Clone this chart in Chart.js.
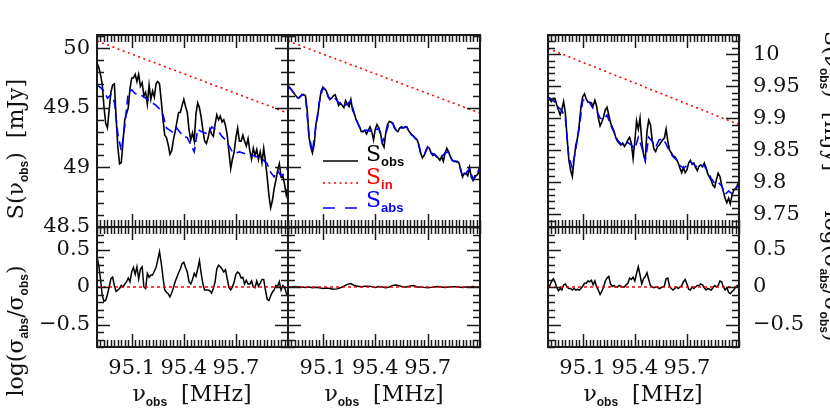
<!DOCTYPE html>
<html>
<head>
  <meta charset="utf-8">
  <title>S(nu_obs) spectra and log(sigma_abs/sigma_obs)</title>
  <script src="https://cdn.jsdelivr.net/npm/chart.js@4.4.0/dist/chart.umd.min.js"></script>
  <style>
    body { margin: 0; background: #fff; }
    #wrap { position: relative; width: 830px; height: 418px; overflow: hidden; }
    canvas { position: absolute; }
    .ttl { position: absolute; font-family: 'DejaVu Serif'; font-size: 22px; line-height: 24px; color: #111; text-align: center; white-space: nowrap; }
    .sb { font-family: 'Liberation Sans'; font-weight: bold; font-size: 12px; vertical-align: -5px; }
    .rl { transform: rotate(-90deg); }
    .rr { transform: rotate(90deg); }
    .lg { position: absolute; font-family: 'DejaVu Serif'; font-size: 22px; line-height: 24px; white-space: nowrap; }
    .lg .sb { font-size: 13px; }
  </style>
</head>
<body>
<div id="wrap">
  <canvas id="lt" width="292" height="225" style="left:0px;top:20px"></canvas>
  <canvas id="lb" width="292" height="200" style="left:0px;top:215px"></canvas>
  <canvas id="mt" width="200" height="225" style="left:284px;top:20px"></canvas>
  <canvas id="mb" width="200" height="200" style="left:284px;top:215px"></canvas>
  <canvas id="rt" width="286" height="225" style="left:544px;top:20px"></canvas>
  <canvas id="rb" width="286" height="200" style="left:544px;top:215px"></canvas>

  <!-- axis titles -->
  <div class="ttl rl" style="left:-130px;top:133px;width:300px">S(ν<span class="sb">obs</span>) &nbsp;[mJy]</div>
  <div class="ttl rl" style="left:-130px;top:315px;width:300px">log(σ<span class="sb">abs</span>/σ<span class="sb">obs</span>)</div>
  <div class="ttl rr" style="left:678px;top:85px;width:300px">S(ν<span class="sb">obs</span>) &nbsp;[mJy]</div>
  <div class="ttl rr" style="left:678px;top:260px;width:300px">log(σ<span class="sb">abs</span>/σ<span class="sb">obs</span>)</div>
  <div class="ttl" style="left:92px;top:382px;width:200px">ν<span class="sb">obs</span> &nbsp;[MHz]</div>
  <div class="ttl" style="left:284px;top:382px;width:200px">ν<span class="sb">obs</span> &nbsp;[MHz]</div>
  <div class="ttl" style="left:543px;top:382px;width:200px">ν<span class="sb">obs</span> &nbsp;[MHz]</div>

  <!-- legend text -->
  <div class="lg" style="left:366px;top:142px;color:#000">S<span class="sb">obs</span></div>
  <div class="lg" style="left:366px;top:165px;color:#ff0000">S<span class="sb">in</span></div>
  <div class="lg" style="left:366px;top:188px;color:#0000ff">S<span class="sb">abs</span></div>
</div>
<script>
  // frequency channels [MHz]
  var freq = [
    94.90, 94.91, 94.92, 94.93, 94.94, 94.95, 94.96, 94.97, 94.98, 94.99,
    95.00, 95.01, 95.02, 95.03, 95.04, 95.05, 95.06, 95.07, 95.08, 95.09,
    95.10, 95.11, 95.12, 95.13, 95.14, 95.15, 95.16, 95.17, 95.18, 95.19,
    95.20, 95.21, 95.22, 95.23, 95.24, 95.25, 95.26, 95.27, 95.28, 95.29,
    95.30, 95.31, 95.32, 95.33, 95.34, 95.35, 95.36, 95.37, 95.38, 95.39,
    95.40, 95.41, 95.42, 95.43, 95.44, 95.45, 95.46, 95.47, 95.48, 95.49,
    95.50, 95.51, 95.52, 95.53, 95.54, 95.55, 95.56, 95.57, 95.58, 95.59,
    95.60, 95.61, 95.62, 95.63, 95.64, 95.65, 95.66, 95.67, 95.68, 95.69,
    95.70, 95.71, 95.72, 95.73, 95.74, 95.75, 95.76, 95.77, 95.78, 95.79,
    95.80, 95.81, 95.82, 95.83, 95.84, 95.85, 95.86, 95.87, 95.88, 95.89,
    95.90, 95.91, 95.92, 95.93, 95.94, 95.95, 95.96, 95.97, 95.98, 95.99,
    96.00
  ];
  var freqCoarse = [
    94.90, 94.92, 94.94, 94.96, 94.98, 95.00, 95.02, 95.04, 95.06, 95.08,
    95.10, 95.12, 95.14, 95.16, 95.18, 95.20, 95.22, 95.24, 95.26, 95.28,
    95.30, 95.32, 95.34, 95.36, 95.38, 95.40, 95.42, 95.44, 95.46, 95.48,
    95.50, 95.52, 95.54, 95.56, 95.58, 95.60, 95.62, 95.64, 95.66, 95.68,
    95.70, 95.72, 95.74, 95.76, 95.78, 95.80, 95.82, 95.84, 95.86, 95.88,
    95.90, 95.92, 95.94, 95.96, 95.98, 96.00
  ];
  var freqEnds = [94.90, 96.00];

  // left column, S [mJy]
  var sObsL = [
    49.875, 49.84, 49.78, 49.70, 49.51, 49.37, 49.33, 49.48, 49.63, 49.69,
    49.70, 49.42, 49.17, 49.03, 49.04, 49.22, 49.40, 49.45, 49.50, 49.66,
    49.75, 49.75, 49.78, 49.72, 49.78, 49.68, 49.71, 49.60, 49.63, 49.53,
    49.69, 49.57, 49.64, 49.59, 49.70, 49.72, 49.70, 49.56, 49.40, 49.27,
    49.25, 49.19, 49.11, 49.14, 49.23, 49.30, 49.38, 49.46, 49.46, 49.52,
    49.57, 49.51, 49.46, 49.315, 49.23, 49.29, 49.22, 49.45, 49.54, 49.50,
    49.42, 49.31, 49.22, 49.20, 49.25, 49.32, 49.28, 49.26, 49.36, 49.44,
    49.40, 49.43, 49.38, 49.40, 49.35, 49.27, 49.13, 48.99, 49.07, 49.13,
    49.25, 49.33, 49.22, 49.22, 49.27, 49.22, 49.18, 49.24, 49.14, 49.07,
    49.16, 49.10, 49.15, 49.065, 49.13, 49.04, 49.16, 49.05, 48.92, 48.77,
    48.66, 48.72, 48.82, 48.89, 48.97, 49.03, 48.92, 48.93, 48.86, 48.77,
    48.84
  ];
  var sAbsL = [
    49.69, 49.67, 49.64, 49.58, 49.61, 49.55, 49.28, 49.14, 49.35, 49.63,
    49.65, 49.62, 49.61, 49.60, 49.58, 49.56, 49.54, 49.52, 49.49, 49.44,
    49.33, 49.31, 49.29, 49.33, 49.29, 49.26, 49.25, 49.19, 49.13, 49.32,
    49.30, 49.29, 49.28, 49.34, 49.32, 49.30, 49.26, 49.23, 49.18, 49.13,
    49.12, 49.13, 49.12, 49.11, 49.10, 49.10, 49.09, 49.08, 49.06, 49.03,
    48.96, 48.92, 48.97, 48.93, 48.95, 49.00
  ];
  var sInL = [50.06, 49.455];

  // middle column, S [mJy]
  var sObsM = [
    49.68, 49.67, 49.65, 49.63, 49.61, 49.59, 49.58, 49.59, 49.61, 49.61,
    49.60, 49.48, 49.26, 49.17, 49.12, 49.19, 49.36, 49.43, 49.55, 49.64,
    49.67, 49.66, 49.64, 49.59, 49.57, 49.58, 49.60, 49.61, 49.57, 49.52,
    49.54, 49.52, 49.50, 49.56, 49.53, 49.51, 49.57, 49.48, 49.45, 49.40,
    49.37, 49.34, 49.30, 49.30, 49.31, 49.28, 49.31, 49.34, 49.30, 49.23,
    49.32, 49.36, 49.33, 49.29, 49.20, 49.17, 49.29, 49.36, 49.385, 49.38,
    49.37, 49.33, 49.31, 49.30, 49.33, 49.34, 49.33, 49.34, 49.34, 49.31,
    49.29, 49.27, 49.26, 49.24, 49.23, 49.19, 49.12, 49.08, 49.10, 49.14,
    49.17, 49.16, 49.12, 49.10, 49.11, 49.09, 49.08, 49.06, 49.09, 49.05,
    49.12, 49.16, 49.13, 49.09, 49.06, 49.05, 49.05, 49.05, 49.035, 48.98,
    48.92, 48.95, 48.95, 48.93, 49.00, 48.92, 48.89, 48.93, 48.93, 48.95,
    49.02
  ];
  var sAbsM = [
    49.68, 49.65, 49.61, 49.58, 49.61, 49.60, 49.27, 49.13, 49.35, 49.55,
    49.67, 49.63, 49.57, 49.60, 49.56, 49.53, 49.51, 49.53, 49.56, 49.45,
    49.37, 49.30, 49.31, 49.31, 49.30, 49.31, 49.33, 49.21, 49.28, 49.38,
    49.37, 49.31, 49.33, 49.33, 49.34, 49.29, 49.26, 49.23, 49.12, 49.10,
    49.17, 49.12, 49.11, 49.08, 49.09, 49.12, 49.13, 49.06, 49.05, 49.03,
    48.92, 48.95, 48.99, 48.90, 48.93, 49.01
  ];
  var sInM = [50.06, 49.455];

  // right column, S [mJy]
  var sObsR = [
    9.934, 9.929, 9.926, 9.931, 9.931, 9.921, 9.913, 9.905, 9.914, 9.926,
    9.908, 9.869, 9.835, 9.819, 9.809, 9.835, 9.858, 9.869, 9.890, 9.918,
    9.934, 9.938, 9.930, 9.925, 9.925, 9.924, 9.919, 9.928, 9.919, 9.900,
    9.888, 9.894, 9.902, 9.913, 9.917, 9.905, 9.893, 9.886, 9.880, 9.870,
    9.864, 9.861, 9.858, 9.861, 9.856, 9.860, 9.866, 9.870, 9.861, 9.837,
    9.864, 9.896, 9.883, 9.900, 9.864, 9.843, 9.835, 9.879, 9.897, 9.890,
    9.866, 9.852, 9.848, 9.855, 9.858, 9.862, 9.866, 9.869, 9.883, 9.864,
    9.850, 9.846, 9.841, 9.840, 9.836, 9.830, 9.822, 9.815, 9.823, 9.815,
    9.819, 9.830, 9.834, 9.828, 9.830, 9.823, 9.818, 9.825, 9.827, 9.824,
    9.830, 9.823, 9.813, 9.808, 9.803, 9.795, 9.792, 9.804, 9.814, 9.809,
    9.796, 9.785, 9.775, 9.768, 9.775, 9.766, 9.780, 9.787, 9.790, 9.795,
    9.801
  ];
  var sAbsR = [
    9.933, 9.930, 9.925, 9.917, 9.912, 9.900, 9.840, 9.822, 9.852, 9.885,
    9.928, 9.930, 9.924, 9.915, 9.912, 9.900, 9.898, 9.905, 9.890, 9.878,
    9.866, 9.860, 9.858, 9.862, 9.858, 9.852, 9.870, 9.855, 9.833, 9.870,
    9.864, 9.855, 9.866, 9.868, 9.860, 9.848, 9.840, 9.835, 9.826, 9.822,
    9.826, 9.832, 9.828, 9.823, 9.825, 9.826, 9.816, 9.806, 9.798, 9.800,
    9.794, 9.781, 9.786, 9.782, 9.789, 9.797
  ];
  var sInR = [10.009, 9.890];

  // log(sigma_abs / sigma_obs)
  var logRatioL = [
    0.40, 0.29, 0.11, -0.11, -0.19, -0.18, -0.10, 0.00, 0.11, 0.13,
    0.02, -0.06, -0.04, -0.02, 0.02, 0.00, 0.04, 0.07, 0.12, 0.07,
    0.20, 0.26, 0.17, 0.27, 0.11, 0.24, 0.27, 0.00, -0.02, 0.18,
    0.13, 0.16, 0.16, 0.21, 0.26, 0.36, 0.47, 0.32, 0.13, -0.04,
    -0.07, -0.09, -0.13, -0.08, -0.01, 0.07, 0.13, 0.19, 0.24, 0.31,
    0.33, 0.26, 0.20, 0.07, 0.04, 0.10, 0.18, 0.14, 0.24, 0.35,
    0.18, 0.04, -0.04, -0.04, -0.04, -0.05, -0.08, -0.02, 0.07, 0.24,
    0.29, 0.27, 0.24, 0.20, 0.23, 0.11, -0.01, -0.04, 0.00, 0.07,
    0.17, 0.20, 0.18, 0.12, 0.13, 0.04, 0.09, 0.04, 0.04, 0.08,
    0.00, -0.01, 0.08, 0.01, 0.05, 0.10, 0.10, -0.04, -0.16, -0.18,
    -0.12, -0.07, -0.04, 0.02, 0.01, 0.07, -0.04, 0.02, 0.00, -0.08,
    -0.13
  ];
  var logRatioM = [
    0.00, 0.00, 0.005, 0.00, 0.00, -0.005, 0.00, -0.01, -0.005, -0.01,
    -0.02, -0.015, -0.02, -0.03, -0.025, -0.01, 0.01, 0.035, 0.045, 0.02,
    0.01, 0.005, 0.01, 0.01, 0.005, -0.005, 0.005, 0.00, -0.01, 0.00,
    0.02, 0.025, 0.015, 0.00, 0.00, 0.015, 0.02, 0.00, 0.00, -0.005,
    -0.01, -0.005, 0.00, 0.005, 0.00, -0.005, 0.00, 0.005, 0.005, 0.00,
    -0.005, 0.00, 0.00, 0.005, 0.00, 0.00
  ];
  var logRatioR = [
    -0.02, 0.02, 0.07, 0.11, 0.07, 0.00, -0.05, -0.02, -0.04, 0.03,
    0.04, 0.00, -0.02, -0.02, -0.04, -0.02, -0.04, -0.03, -0.04, -0.02,
    0.01, 0.05, 0.05, 0.08, 0.07, 0.09, 0.03, 0.08, 0.00, -0.04,
    -0.10, -0.06, 0.00, 0.08, 0.12, 0.14, 0.04, 0.01, 0.02, 0.00,
    0.00, 0.02, 0.01, 0.00, 0.00, 0.03, 0.05, 0.12, 0.10, 0.13,
    0.08, 0.18, 0.27, 0.16, 0.04, 0.11, 0.14, 0.19, 0.10, 0.02,
    0.00, -0.01, 0.00, 0.00, -0.02, -0.01, 0.00, 0.01, 0.11, 0.12,
    0.01, -0.02, -0.04, -0.02, 0.00, -0.02, 0.00, 0.02, 0.07, 0.10,
    0.04, -0.03, -0.04, 0.00, -0.02, 0.00, 0.02, 0.02, 0.04, 0.03,
    -0.01, -0.04, -0.02, -0.03, -0.04, -0.01, 0.02, 0.00, 0.02, 0.08,
    0.07, 0.00, -0.04, -0.01, -0.07, -0.09, -0.06, -0.04, 0.00, 0.02,
    0.00
  ];
  var zeroLine = [0, 0];

  // tick labels
  var xTicks = [95.1, 95.4, 95.7];
  var yTicksS = [48.5, 49, 49.5, 50];
  var yTicksR = [9.75, 9.8, 9.85, 9.9, 9.95, 10];
  var yTicksLog = [-0.5, 0, 0.5];

  Chart.defaults.font.family = 'DejaVu Serif';
  Chart.defaults.color = '#111';

  function pts(xs, ys) {
    return xs.map(function(x, i) { return { x: x, y: ys[i] }; });
  }

  function fmt(v) {
    return v < 0 ? '\u2212' + Math.abs(v) : String(v);
  }

  // values between min and max on a step grid
  function stepValues(min, max, step) {
    var out = [];
    var k0 = Math.ceil(min / step - 1e-6), k1 = Math.floor(max / step + 1e-6);
    for (var k = k0; k <= k1; k++) out.push(k * step);
    return out;
  }

  // the axis labels may hang over the plot edges, the panels are butted together
  function noPad(sc) {
    sc.paddingTop = 0; sc.paddingBottom = 0; sc.paddingLeft = 0; sc.paddingRight = 0;
  }

  // box around the plot with ticks pointing inward on all four sides
  var frameTicks = {
    id: 'frameTicks',
    afterDraw: function(chart, args, o) {
      var ctx = chart.ctx, a = chart.chartArea;
      var xs = chart.scales.x, ys = chart.scales.y;
      ctx.save();
      ctx.strokeStyle = '#1a1a1a';
      ctx.lineWidth = 1.5;
      ctx.beginPath();
      stepValues(xs.min, xs.max, o.xMinor).forEach(function(v) {
        var big = o.xMajor.some(function(m) { return Math.abs(m - v) < o.xMinor / 2; });
        var len = big ? 13 : 7;
        var p = Math.round(xs.getPixelForValue(v)) + 0.5;
        ctx.moveTo(p, a.top); ctx.lineTo(p, a.top + len);
        ctx.moveTo(p, a.bottom); ctx.lineTo(p, a.bottom - len);
      });
      stepValues(ys.min, ys.max, o.yMinor).forEach(function(v) {
        var big = o.yMajor.some(function(m) { return Math.abs(m - v) < o.yMinor / 2; });
        var len = big ? 13 : 7;
        var p = Math.round(ys.getPixelForValue(v)) + 0.5;
        ctx.moveTo(a.left, p); ctx.lineTo(a.left + len, p);
        ctx.moveTo(a.right, p); ctx.lineTo(a.right - len, p);
      });
      ctx.stroke();
      ctx.lineWidth = 2;
      ctx.strokeRect(a.left, a.top, a.right - a.left, a.bottom - a.top);
      ctx.restore();
    }
  };

  // line samples for the legend in the middle panel
  var legendKeys = {
    id: 'legendKeys',
    afterDraw: function(chart) {
      var ctx = chart.ctx, a = chart.chartArea;
      var rows = [
        { dy: 126, color: '#000000', dash: [] },
        { dy: 148, color: '#ff0000', dash: [2, 3.5] },
        { dy: 173, color: '#0000ff', dash: [12, 10] }
      ];
      ctx.save();
      ctx.lineWidth = 1.6;
      rows.forEach(function(r) {
        ctx.strokeStyle = r.color;
        ctx.setLineDash(r.dash);
        ctx.beginPath();
        ctx.moveTo(a.left + 35, a.top + r.dy);
        ctx.lineTo(a.left + 70, a.top + r.dy);
        ctx.stroke();
      });
      ctx.restore();
    }
  };

  function xScale(show) {
    var s = {
      type: 'linear', min: 94.9, max: 96.0, display: show,
      grid: { display: false, drawTicks: false }, border: { display: false },
      ticks: { autoSkip: false, maxRotation: 0, padding: 9, font: { size: 21 }, callback: fmt },
      afterBuildTicks: function(sc) { sc.ticks = xTicks.map(function(v) { return { value: v }; }); }
    };
    if (show) s.afterFit = function(sc) { sc.height = 68; noPad(sc); };
    return s;
  }

  function yScale(min, max, labels, pos) {
    var s = {
      type: 'linear', min: min, max: max, display: !!labels, position: pos || 'left',
      grid: { display: false, drawTicks: false }, border: { display: false },
      ticks: { autoSkip: false, padding: pos === 'right' ? 14 : 7, font: { size: 21 }, callback: fmt }
    };
    if (labels) {
      s.afterBuildTicks = function(sc) { sc.ticks = labels.map(function(v) { return { value: v }; }); };
      s.afterFit = function(sc) { sc.width = pos === 'right' ? 91 : 97; noPad(sc); };
    }
    return s;
  }

  function specSets(obs, abs, sIn) {
    return [
      { data: pts(freq, obs), borderColor: '#000000', borderWidth: 1.6, order: 2 },
      { data: pts(freqEnds, sIn), borderColor: '#ff0000', borderWidth: 1.6, borderDash: [2, 3.5], order: 1 },
      { data: pts(freqCoarse, abs), borderColor: '#0000ff', borderWidth: 1.6, borderDash: [9, 5], order: 0 }
    ];
  }

  function ratioSets(xs, ratio) {
    return [
      { data: pts(xs, ratio), borderColor: '#000000', borderWidth: 1.5, order: 1 },
      { data: pts(freqEnds, zeroLine), borderColor: '#ff0000', borderWidth: 1.5, borderDash: [3, 3], order: 0 }
    ];
  }

  function makePanel(id, sets, pad, xs, ys, ticks, extra) {
    return new Chart(document.getElementById(id), {
      type: 'line',
      data: { datasets: sets },
      options: {
        responsive: false, animation: false, devicePixelRatio: 1,
        layout: { padding: pad, autoPadding: false },
        elements: { point: { radius: 0 }, line: { tension: 0 } },
        plugins: { legend: { display: false }, tooltip: { enabled: false }, frameTicks: ticks },
        scales: { x: xs, y: ys }
      },
      plugins: [frameTicks].concat(extra || [])
    });
  }

  var tickS = { xMajor: xTicks, xMinor: 0.02, yMajor: yTicksS, yMinor: 0.1 };
  var tickR = { xMajor: xTicks, xMinor: 0.02, yMajor: yTicksR, yMinor: 0.01 };
  var tickLog = { xMajor: xTicks, xMinor: 0.02, yMajor: yTicksLog, yMinor: 0.1 };

  makePanel('lt', specSets(sObsL, sAbsL, sInL), { left: 0, top: 15, right: 4, bottom: 18 },
    xScale(false), yScale(48.5, 50.11, yTicksS, 'left'), tickS);
  makePanel('lb', ratioSets(freq, logRatioL), { left: 0, top: 12, right: 4, bottom: 0 },
    xScale(true), yScale(-0.8, 0.8, yTicksLog, 'left'), tickLog);
  makePanel('mt', specSets(sObsM, sAbsM, sInM), { left: 4, top: 15, right: 4, bottom: 18 },
    xScale(false), yScale(48.5, 50.11, null), tickS, [legendKeys]);
  makePanel('mb', ratioSets(freqCoarse, logRatioM), { left: 4, top: 12, right: 4, bottom: 0 },
    xScale(true), yScale(-0.8, 0.8, null), tickLog);
  makePanel('rt', specSets(sObsR, sAbsR, sInR), { left: 4, top: 15, right: 0, bottom: 18 },
    xScale(false), yScale(9.73, 10.03, yTicksR, 'right'), tickR);
  makePanel('rb', ratioSets(freq, logRatioR), { left: 4, top: 12, right: 0, bottom: 0 },
    xScale(true), yScale(-0.8, 0.8, yTicksLog, 'right'), tickLog);
</script>
</body>
</html>
